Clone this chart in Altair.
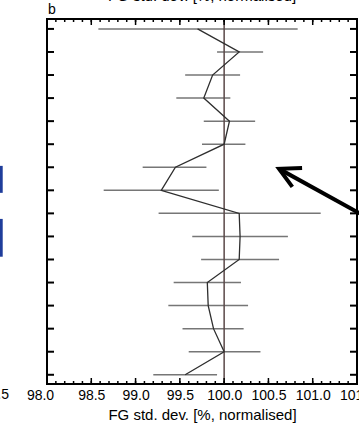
import altair as alt
import pandas as pd

# Normalised first-guess standard deviation per level (%), with its spread
levels = list(range(1, 17))
centre = [99.70, 100.17, 99.87, 99.77, 100.06, 100.00, 99.45, 99.29,
          100.17, 100.18, 100.17, 99.81, 99.82, 99.88, 100.00, 99.56]
low = [98.58, 99.92, 99.56, 99.46, 99.77, 99.75, 99.08, 98.64,
       99.26, 99.64, 99.74, 99.43, 99.37, 99.53, 99.60, 99.20]
high = [100.83, 100.44, 100.18, 100.07, 100.35, 100.24, 99.80, 99.94,
        101.09, 100.72, 100.62, 100.19, 100.27, 100.22, 100.41, 99.92]

# Axis ticks
x_labels = [98.0, 98.5, 99.0, 99.5, 100.0, 100.5, 101.0, 101.5]
x_major = [98.0, 98.5, 99.0, 99.5, 100.0, 100.5, 101.0, 101.5]
x_minor = [round(98.0 + 0.1 * i, 1) for i in range(36)]
reference = [100.0]

# Edge of the neighbouring panel: its last axis label and legend bars
side_label = ["97.5"]
side_label_x = [97.57]
side_bar_left = [97.46, 97.46]
side_bar_right = [97.50, 97.50]
side_bar_top = [6.94, 9.24]
side_bar_bottom = [8.11, 10.88]

# Annotation arrow (shaft and open head)
arrow_x = [101.55, 100.62, 100.88, 100.62, 100.77]
arrow_y = [9.04, 7.07, 7.03, 7.07, 7.85]
arrow_part = ["shaft", "shaft", "head", "head", "head"]
arrow_order = [0, 1, 0, 1, 2]

TITLE = "FG std. dev. [%, normalised]"
W, H = 310, 365
XDOM = [98.0, 101.5]
YDOM = [0.57, 16.4]
FONT = "Liberation Sans"

prof = pd.DataFrame({"level": levels, "centre": centre, "low": low, "high": high})
xs = alt.Scale(domain=XDOM, nice=False, zero=False)
ys = alt.Scale(domain=YDOM, nice=False, zero=False, reverse=True)

base = alt.Chart(prof)

bars = base.mark_rule(color="#767676", strokeWidth=1.5).encode(
    x=alt.X("low:Q", scale=xs,
            axis=alt.Axis(values=x_labels, format=".1f", ticks=False, domain=False,
                          grid=False, labelFont=FONT, labelFontSize=14,
                          labelColor="#000", labelPadding=4, labelFlush=False,
                          labelOverlap=False,
                          labelOffset={"condition": {"test": "datum.value == 98",
                                                     "value": -7},
                                       "value": 0},
                          title=TITLE, titleFont=FONT,
                          titleFontSize=15, titleFontWeight="normal",
                          titleColor="#000", titlePadding=5)),
    x2="high:Q",
    y=alt.Y("level:Q", scale=ys, axis=None),
)

ref_line = alt.Chart(pd.DataFrame({"v": reference})).mark_rule(
    color="#5a4848", strokeWidth=1.5).encode(
    x=alt.X("v:Q", scale=xs), y=alt.value(0), y2=alt.value(H))

curve = base.mark_line(color="#2e2e2e", strokeWidth=1.3).encode(
    x=alt.X("centre:Q", scale=xs),
    y=alt.Y("level:Q", scale=ys),
    order="level:Q",
)

tick_major = pd.DataFrame({"v": x_major})
tick_minor = pd.DataFrame({"v": x_minor})
tick_style = dict(color="#000", strokeWidth=1.5)
xt_top_major = alt.Chart(tick_major).mark_rule(**tick_style).encode(
    x=alt.X("v:Q", scale=xs), y=alt.value(0), y2=alt.value(6))
xt_bot_major = alt.Chart(tick_major).mark_rule(**tick_style).encode(
    x=alt.X("v:Q", scale=xs), y=alt.value(H), y2=alt.value(H - 6))
xt_top_minor = alt.Chart(tick_minor).mark_rule(**tick_style).encode(
    x=alt.X("v:Q", scale=xs), y=alt.value(0), y2=alt.value(3))
xt_bot_minor = alt.Chart(tick_minor).mark_rule(**tick_style).encode(
    x=alt.X("v:Q", scale=xs), y=alt.value(H), y2=alt.value(H - 3))
yt_left = base.mark_rule(color="#000", strokeWidth=2).encode(
    y=alt.Y("level:Q", scale=ys), x=alt.value(0), x2=alt.value(7))
yt_right = base.mark_rule(color="#000", strokeWidth=2).encode(
    y=alt.Y("level:Q", scale=ys), x=alt.value(W), x2=alt.value(W - 7))

side_bars = alt.Chart(pd.DataFrame({
    "l": side_bar_left, "r": side_bar_right,
    "top": side_bar_top, "bottom": side_bar_bottom})).mark_rect(color="#1f3d9b").encode(
    x=alt.X("l:Q", scale=xs), x2="r:Q",
    y=alt.Y("top:Q", scale=ys), y2="bottom:Q")

side_text = alt.Chart(pd.DataFrame({"lab": side_label, "xv": side_label_x})).mark_text(
    font=FONT, fontSize=14, color="#000", baseline="top", align="right").encode(
    x=alt.X("xv:Q", scale=xs), y=alt.value(H + 4), text="lab:N")

arrow = alt.Chart(pd.DataFrame({"x": arrow_x, "y": arrow_y, "part": arrow_part,
                                "o": arrow_order})).mark_line(
    color="#000", strokeWidth=4, strokeJoin="miter", strokeCap="butt").encode(
    x=alt.X("x:Q", scale=xs), y=alt.Y("y:Q", scale=ys),
    detail="part:N", order="o:Q")

top_title = alt.Chart(pd.DataFrame({"t": [TITLE], "xv": [sum(XDOM) / 2]})).mark_text(
    font=FONT, fontSize=15, color="#000", baseline="alphabetic", align="center").encode(
    x=alt.X("xv:Q", scale=xs), y=alt.value(-18.5), text="t:N")

panel_label = alt.Chart(pd.DataFrame({"t": ["b"], "xv": [XDOM[0]]})).mark_text(
    font=FONT, fontSize=14, color="#000", baseline="alphabetic", align="left", dx=1).encode(
    x=alt.X("xv:Q", scale=xs), y=alt.value(-5), text="t:N")

chart = alt.layer(
    bars, ref_line, curve,
    xt_top_minor, xt_bot_minor, xt_top_major, xt_bot_major, yt_left, yt_right,
    side_bars, side_text, arrow, top_title, panel_label,
).properties(
    width=W, height=H,
    autosize=alt.AutoSizeParams(type="none"),
    padding={"left": 47, "top": 19, "right": 2, "bottom": 42},
    background="#ffffff",
).configure_view(stroke="#000", strokeWidth=2)

chart.save("out.html", embed_options={"renderer": "svg", "actions": False})
